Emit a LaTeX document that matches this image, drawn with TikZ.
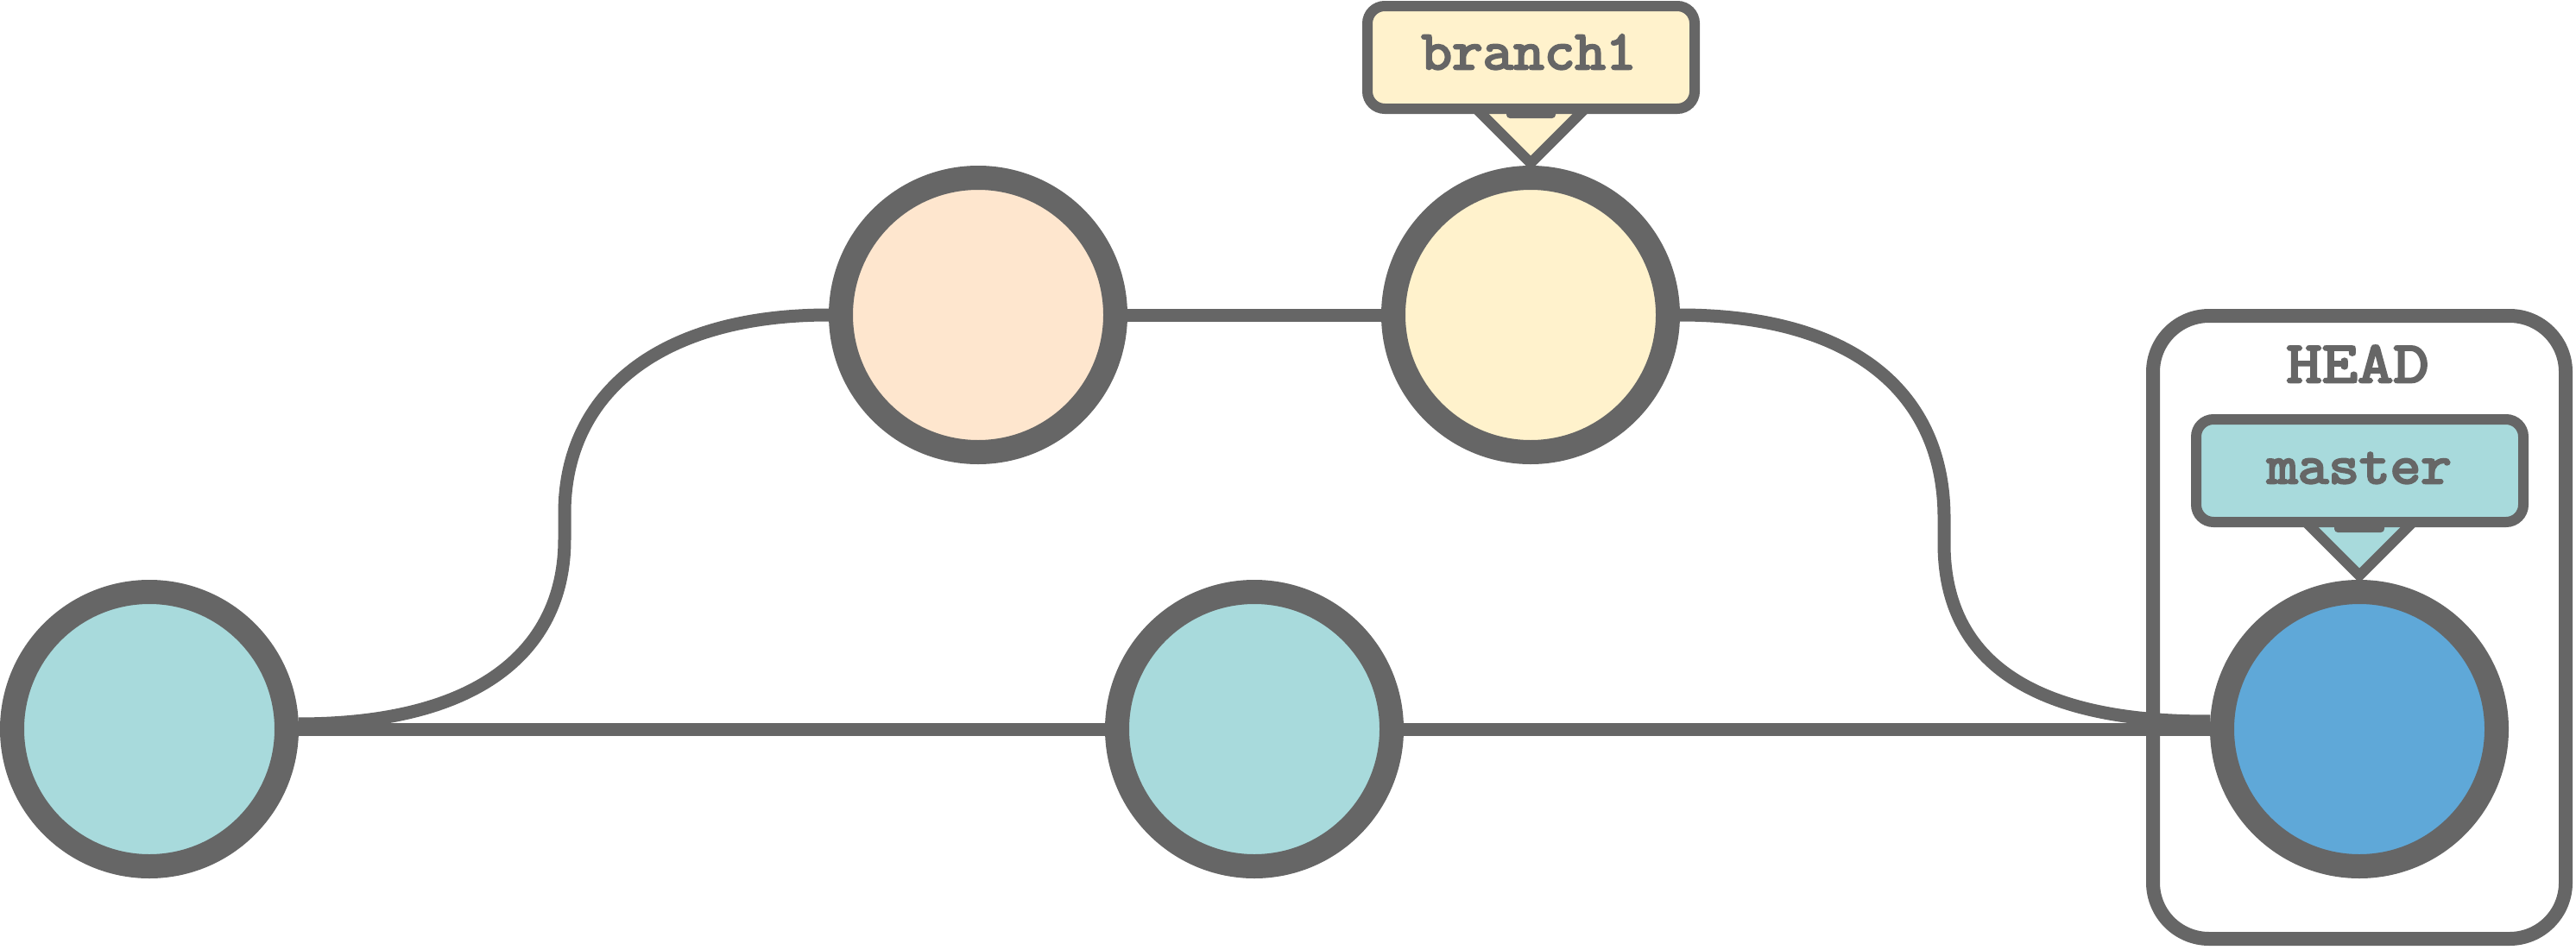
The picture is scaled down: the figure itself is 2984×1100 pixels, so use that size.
\documentclass[tikz,border=0pt]{standalone}
\usepackage{fontspec}
\newfontfamily\tagfont[FakeBold=4,FakeStretch=1.08]{Latin Modern Mono}
\newfontfamily\headfont[FakeBold=4,FakeStretch=1.18]{Latin Modern Mono}
\usetikzlibrary{backgrounds}
\definecolor{ln}{HTML}{666666}
\definecolor{cteal}{HTML}{A8DADC}
\definecolor{cpeach}{HTML}{FEE6CE}
\definecolor{cyel}{HTML}{FFF2CC}
\definecolor{cblue}{HTML}{5FA8D8}
\begin{document}
\begin{tikzpicture}[x=1pt,y=-1pt,
  commit/.style={circle,draw=ln,line width=28pt,minimum size=318pt,inner sep=0pt},
  conn/.style={draw=ln,line width=15pt},
  tagbox/.style={draw=ln,line width=12pt,rounded corners=20pt,minimum width=379pt,minimum height=119pt,inner sep=0pt},
  tagtext/.style={text=ln,font=\tagfont\fontsize{64}{72}\selectfont,anchor=base,inner sep=0pt},
  pointer/.style={draw=ln,line width=12pt,line join=miter},
  tabmark/.style={fill=ln,rounded corners=4pt},
  headbox/.style={draw=ln,line width=16pt,rounded corners=65pt,minimum width=478pt,minimum height=722pt,inner sep=0pt}]
\useasboundingbox (0,0) rectangle (2984,1100);

% commits
\node[commit,fill=cteal]  (c1) at (173,845) {};
\node[commit,fill=cpeach] (c2) at (1133,365) {};
\node[commit,fill=cyel]   (c3) at (1773,365) {};
\node[commit,fill=cteal]  (c4) at (1453,845) {};
\node[commit,fill=cblue]  (c5) at (2733,845) {};

% branch1 label
\draw[pointer,fill=cyel] (1702,118) -- (1773,189) -- (1844,118) -- cycle;
\node[tagbox,fill=cyel] (b1) at (1773.5,66.5) {};
\fill[tabmark] (1745,122) rectangle (1802,137);
\node[tagtext] (t1) at (1771,80) {branch1};

% master label
\draw[pointer,fill=cteal] (2664,598) -- (2733,667) -- (2802,598) -- cycle;
\node[tagbox,fill=cteal] (m1) at (2733.5,545.5) {};
\fill[tabmark] (2704,602) rectangle (2762,617);
\node[tagtext] (t2) at (2733,560) {master};

\begin{scope}[on background layer]
  \node[headbox] (hb) at (2733,727) {};
  \node[tagtext,font=\headfont\fontsize{68}{78}\selectfont] (t3) at (2731,443) {HEAD};
  \coordinate (l1) at (654,625);
  \coordinate (l2) at (654,595);
  \coordinate (r1) at (2252,600);
  \coordinate (r2) at (2252,630);
  \draw[conn] (c1.east) -- (c4.west);
  \draw[conn] (c4.east) -- (c5.west);
  \draw[conn] (c2.east) -- (c3.west);
  \draw[conn] (c1.2) .. controls (560,839) and (654,750) .. (l1) -- (l2)
        .. controls (654,455) and (765,365) .. (c2.west);
  \draw[conn] (c3.east) .. controls (2146,365) and (2252,455) .. (r1) -- (r2)
        .. controls (2252,770) and (2360,837) .. (c5.177);
\end{scope}
\end{tikzpicture}
\end{document}
